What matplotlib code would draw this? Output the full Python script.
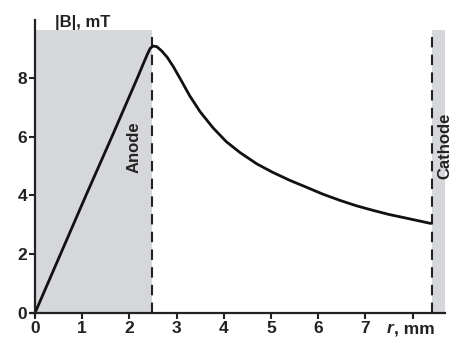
# plot.py - |B| vs r between anode and cathode

import matplotlib
matplotlib.use("Agg")
import matplotlib.pyplot as plt

plt.rcParams["font.family"] = ["Liberation Sans", "DejaVu Sans"]
plt.rcParams["font.weight"] = "bold"

# Data
r_mm = [0.0, 0.54, 1.08, 1.63, 2.17, 2.30, 2.38, 2.44, 2.50, 2.58,
        2.68, 2.80, 2.93, 3.10, 3.28, 3.50, 3.77, 4.05, 4.34, 4.70,
        5.04, 5.40, 5.76, 6.10, 6.46, 6.80, 7.16, 7.50, 7.88, 8.37]
b_mT = [0.0, 2.0, 4.0, 6.0, 8.0, 8.5, 8.8, 9.0, 9.08, 9.06,
        8.92, 8.7, 8.38, 7.9, 7.38, 6.84, 6.3, 5.83, 5.46, 5.07,
        4.78, 4.51, 4.27, 4.04, 3.83, 3.65, 3.49, 3.35, 3.22, 3.05]

anode_r = 2.47
cathode_r = 8.41
region_top = 9.63

x_ticks = [0, 1, 2, 3, 4, 5, 6, 7, 8]
x_ticklabels = ["0", "1", "2", "3", "4", "5", "6", "7", ""]
y_ticks = [0, 2, 4, 6, 8]

GRAY = "#d6d7db"

fig = plt.figure(figsize=(4.57, 3.40), dpi=100)
ax = fig.add_axes([0.0683, 0.0709, 0.906, 0.8706])

ax.set_xlim(-0.08, 8.69)
ax.set_ylim(-0.1, 9.97)

# shaded electrode regions
ax.fill_between([0, anode_r], 0, region_top, color=GRAY, lw=0, zorder=0)
ax.fill_between([cathode_r, 8.69], 0, region_top, color=GRAY, lw=0, zorder=0)

ax.plot([anode_r, anode_r], [0, region_top], color="#222222", lw=1.5,
        dashes=(5, 3.5), zorder=2)
ax.plot([cathode_r, cathode_r], [0, region_top], color="#222222", lw=1.5,
        dashes=(5, 3.5), zorder=2)

ax.plot(r_mm, b_mT, color="#111111", lw=2.0, zorder=3,
        solid_joinstyle="round")

ax.text(2.1, 5.65, "Anode", rotation=90, ha="center", va="center",
        fontsize=12, fontweight="bold", color="#222222")
ax.text(8.69, 5.68, "Cathode", rotation=90, ha="center", va="center",
        fontsize=12, fontweight="bold", color="#222222", clip_on=False)

for side in ["top", "right"]:
    ax.spines[side].set_visible(False)
ax.spines["left"].set_position(("data", 0))
ax.spines["bottom"].set_position(("data", 0))
for side in ["left", "bottom"]:
    ax.spines[side].set_linewidth(1.6)
    ax.spines[side].set_color("#222222")
    ax.spines[side].set_zorder(4)

ax.set_xticks(x_ticks)
ax.set_xticklabels(x_ticklabels)
ax.set_yticks(y_ticks)
ax.tick_params(direction="out", length=4, width=1.5, colors="#222222",
               labelsize=12.5, pad=1.5)
for lbl in ax.get_xticklabels() + ax.get_yticklabels():
    lbl.set_fontweight("bold")

fig.text(55 / 457, 1 - 27 / 340, "|B|, mT", fontsize=12, fontweight="bold",
         color="#222222", ha="left", va="baseline")
fig.text(387 / 457, 1 - 333 / 340, "r", fontsize=12.5, fontweight="bold",
         fontstyle="italic", color="#222222", ha="left", va="baseline")
fig.text(394 / 457, 1 - 333 / 340, ", mm", fontsize=12.5, fontweight="bold",
         color="#222222", ha="left", va="baseline")

fig.savefig("out.png", dpi=100)
